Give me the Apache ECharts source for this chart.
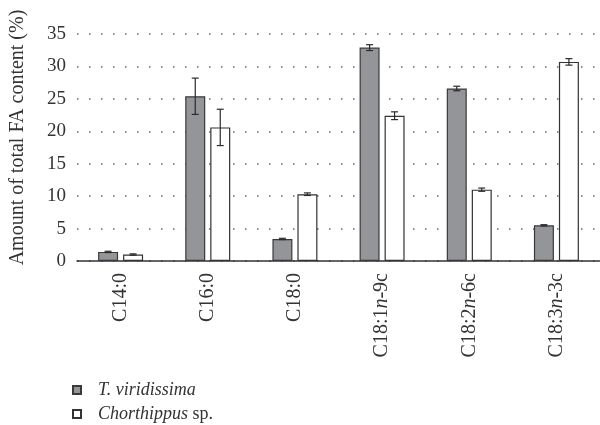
<!DOCTYPE html>
<html>
<head>
<meta charset="utf-8">
<script src="https://cdn.jsdelivr.net/npm/echarts@6/dist/echarts.min.js"></script>
<style>html,body{margin:0;padding:0;background:#fff}#c{width:600px;height:425px}</style>
</head>
<body>
<div id="c"></div>
<script>
const categories = ['C14:0', 'C16:0', 'C18:0', 'C18:1n-9c', 'C18:2n-6c', 'C18:3n-3c'];
const seriesNames = ['T. viridissima', 'Chorthippus sp.'];
const tvValues = [1.4, 25.4, 3.4, 32.9, 26.6, 5.5];
const tvErrors = [0.1, 2.8, 0.1, 0.45, 0.35, 0.1];
const chValues = [1.0, 20.6, 10.3, 22.4, 11.0, 30.7];
const chErrors = [0.1, 2.8, 0.2, 0.6, 0.25, 0.5];

const FONT = 'Liberation Serif';
const BAR_W = 20, BAR_GAP = 5;
const chart = echarts.init(document.getElementById('c'));

function errSeries(vals, errs, offset) {
  return {
    type: 'custom',
    z: 10,
    encode: { x: 0, y: [1, 2] },
    data: vals.map((v, i) => [i, v - errs[i], v + errs[i]]),
    renderItem: function (params, api) {
      const lo = api.coord([api.value(0), api.value(1)]);
      const hi = api.coord([api.value(0), api.value(2)]);
      const x = lo[0] + offset;
      const cw = 3.5;
      const st = { stroke: '#2b2b2b', lineWidth: 1.2 };
      return {
        type: 'group',
        children: [
          { type: 'line', shape: { x1: x, y1: lo[1], x2: x, y2: hi[1] }, style: st },
          { type: 'line', shape: { x1: x - cw, y1: lo[1], x2: x + cw, y2: lo[1] }, style: st },
          { type: 'line', shape: { x1: x - cw, y1: hi[1], x2: x + cw, y2: hi[1] }, style: st }
        ]
      };
    }
  };
}

const off = (BAR_W + BAR_GAP) / 2;

chart.setOption({
  animation: false,
  textStyle: { fontFamily: FONT },
  grid: { left: 71, right: 0, top: 34, bottom: 164 },
  legend: {
    orient: 'vertical',
    left: 72,
    top: 381,
    padding: 0,
    icon: 'rect',
    itemWidth: 8,
    itemHeight: 8,
    itemGap: 6,
    data: seriesNames,
    formatter: function (name) {
      return name === 'Chorthippus sp.' ? '{i|Chorthippus} {n|sp.}' : '{i|T. viridissima}';
    },
    textStyle: {
      fontFamily: FONT, fontSize: 18, color: '#333', padding: [0, 0, 0, 12],
      rich: {
        i: { fontFamily: FONT, fontSize: 18, fontStyle: 'italic', color: '#333' },
        n: { fontFamily: FONT, fontSize: 18, color: '#333' }
      }
    }
  },
  xAxis: {
    type: 'category',
    data: categories,
    axisLine: { lineStyle: { color: '#333', width: 1.5 } },
    axisTick: { show: false },
    axisLabel: {
      rotate: 90,
      margin: 12,
      color: '#333',
      fontFamily: FONT,
      fontSize: 20,
      formatter: function (v) {
        const m = v.match(/^(C18:\d)n(-.*)$/);
        return m ? m[1] + '{i|n}' + m[2] : v;
      },
      rich: { i: { fontFamily: FONT, fontSize: 20, fontStyle: 'italic', color: '#333' } }
    }
  },
  yAxis: {
    type: 'value',
    min: 0, max: 35, interval: 5,
    name: 'Amount of total FA content (%)',
    nameLocation: 'middle',
    nameGap: 49,
    nameTextStyle: { fontFamily: FONT, fontSize: 20, color: '#333', padding: [0, 0, 0, 20] },
    axisLine: { show: false },
    axisTick: { show: false },
    axisLabel: { color: '#333', fontFamily: FONT, fontSize: 19, margin: 11 },
    splitLine: { lineStyle: { type: [1.5, 10.5], color: '#666', width: 1.5 } }
  },
  series: [
    {
      name: seriesNames[0], type: 'bar', data: tvValues,
      barWidth: BAR_W, barGap: (BAR_GAP / BAR_W * 100) + '%',
      itemStyle: { color: '#939598', borderColor: '#3a3a3a', borderWidth: 1.2 }
    },
    {
      name: seriesNames[1], type: 'bar', data: chValues,
      barWidth: BAR_W,
      itemStyle: { color: '#ffffff', borderColor: '#333', borderWidth: 1.2 }
    },
    errSeries(tvValues, tvErrors, -off),
    errSeries(chValues, chErrors, off)
  ]
});
</script>
</body>
</html>
